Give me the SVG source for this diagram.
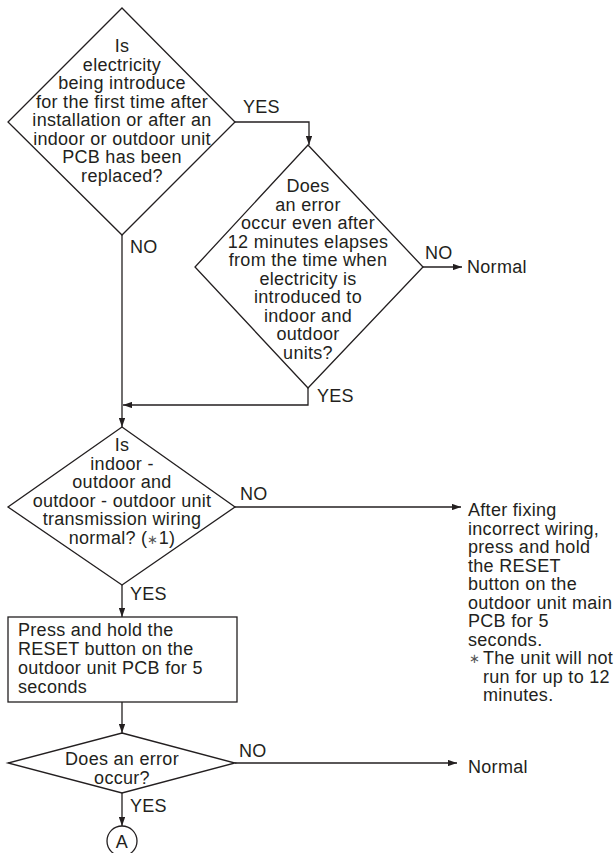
<svg xmlns="http://www.w3.org/2000/svg" width="614" height="853" viewBox="0 0 614 853">
<defs>
<marker id="arr" viewBox="0 0 10 7" refX="10" refY="3.5" markerWidth="9" markerHeight="6.3" markerUnits="userSpaceOnUse" orient="auto">
<path d="M0,0 L10,3.5 L0,7 z" fill="#231f20"/>
</marker>
<style>
.s{fill:#fff;stroke:#231f20;stroke-width:1.3}
.c{fill:none;stroke:#231f20;stroke-width:1.3}
text{font-family:"Liberation Sans",Arial,sans-serif;font-size:18px;fill:#231f20;letter-spacing:0.3px}
.m{text-anchor:middle}
.ast{font-size:13px;fill:#555}
</style>
</defs>
<rect width="614" height="853" fill="#fff"/>
<g id="connectors">
<polyline class="c" points="235,122 309,122 309,145" marker-end="url(#arr)"/>
<line class="c" x1="423" y1="267" x2="462" y2="267" marker-end="url(#arr)"/>
<polyline class="c" points="308,388 308,405 123,405" marker-end="url(#arr)"/>
<line class="c" x1="122" y1="235" x2="122" y2="427" marker-end="url(#arr)"/>
<line class="c" x1="235" y1="507" x2="461" y2="507" marker-end="url(#arr)"/>
<line class="c" x1="122" y1="585" x2="122" y2="617" marker-end="url(#arr)"/>
<line class="c" x1="122" y1="702" x2="122" y2="733" marker-end="url(#arr)"/>
<line class="c" x1="235" y1="763" x2="457" y2="763" marker-end="url(#arr)"/>
<line class="c" x1="122" y1="793" x2="122" y2="826" marker-end="url(#arr)"/>
<text x="243" y="113">YES</text>
<text x="425" y="259">NO</text>
<text x="317" y="402">YES</text>
<text x="130" y="253">NO</text>
<text x="240" y="500">NO</text>
<text x="130" y="600">YES</text>
<text x="239" y="757">NO</text>
<text x="130" y="812">YES</text>
</g>
<g id="q1">
<polygon class="s" points="122,8 235,122 122,235 8,122"/>
<text class="m" x="122" y="52">Is</text>
<text class="m" x="122" y="70.5">electricity</text>
<text class="m" x="122" y="89">being introduce</text>
<text class="m" x="122" y="107.5">for the first time after</text>
<text class="m" x="122" y="126">installation or after an</text>
<text class="m" x="122" y="144.5">indoor or outdoor unit</text>
<text class="m" x="122" y="163">PCB has been</text>
<text class="m" x="122" y="181.5">replaced?</text>
</g>
<g id="q2">
<polygon class="s" points="308,145 423,267 308,388 195,267"/>
<text class="m" x="308" y="192">Does</text>
<text class="m" x="308" y="210.5">an error</text>
<text class="m" x="308" y="229">occur even after</text>
<text class="m" x="308" y="247.5">12 minutes elapses</text>
<text class="m" x="308" y="266">from the time when</text>
<text class="m" x="308" y="284.5">electricity is</text>
<text class="m" x="308" y="303">introduced to</text>
<text class="m" x="308" y="321.5">indoor and</text>
<text class="m" x="308" y="340">outdoor</text>
<text class="m" x="308" y="358.5">units?</text>
</g>
<g id="normal1">
<text x="467" y="273">Normal</text>
</g>
<g id="q3">
<polygon class="s" points="122,427 235,507 122,585 8,507"/>
<text class="m" x="122" y="451">Is</text>
<text class="m" x="122" y="469.5">indoor -</text>
<text class="m" x="122" y="488">outdoor and</text>
<text class="m" x="122" y="506.5">outdoor - outdoor unit</text>
<text class="m" x="122" y="525">transmission wiring</text>
<text class="m" x="122" y="543.5">normal? (<tspan class="ast">∗</tspan>1)</text>
</g>
<g id="fix">
<text x="468" y="516">After fixing</text>
<text x="468" y="534.5">incorrect wiring,</text>
<text x="468" y="553">press and hold</text>
<text x="468" y="571.5">the RESET</text>
<text x="468" y="590">button on the</text>
<text x="468" y="608.5">outdoor unit main</text>
<text x="468" y="627">PCB for 5</text>
<text x="468" y="645.5">seconds.</text>
<text class="ast" x="469" y="663">∗</text>
<text x="483" y="664">The unit will not</text>
<text x="483" y="682.5">run for up to 12</text>
<text x="483" y="701">minutes.</text>
</g>
<g id="reset">
<rect class="s" x="8" y="617" width="229" height="85"/>
<text x="18" y="636">Press and hold the</text>
<text x="18" y="655">RESET button on the</text>
<text x="18" y="674">outdoor unit PCB for 5</text>
<text x="18" y="693">seconds</text>
</g>
<g id="q4">
<polygon class="s" points="122,733 235,763 122,793 8,763"/>
<text class="m" x="122" y="765">Does an error</text>
<text class="m" x="122" y="784">occur?</text>
</g>
<g id="normal2">
<text x="468" y="773">Normal</text>
</g>
<g id="A">
<circle class="s" cx="122" cy="841" r="15"/>
<text class="m" x="122" y="848">A</text>
</g>
</svg>
